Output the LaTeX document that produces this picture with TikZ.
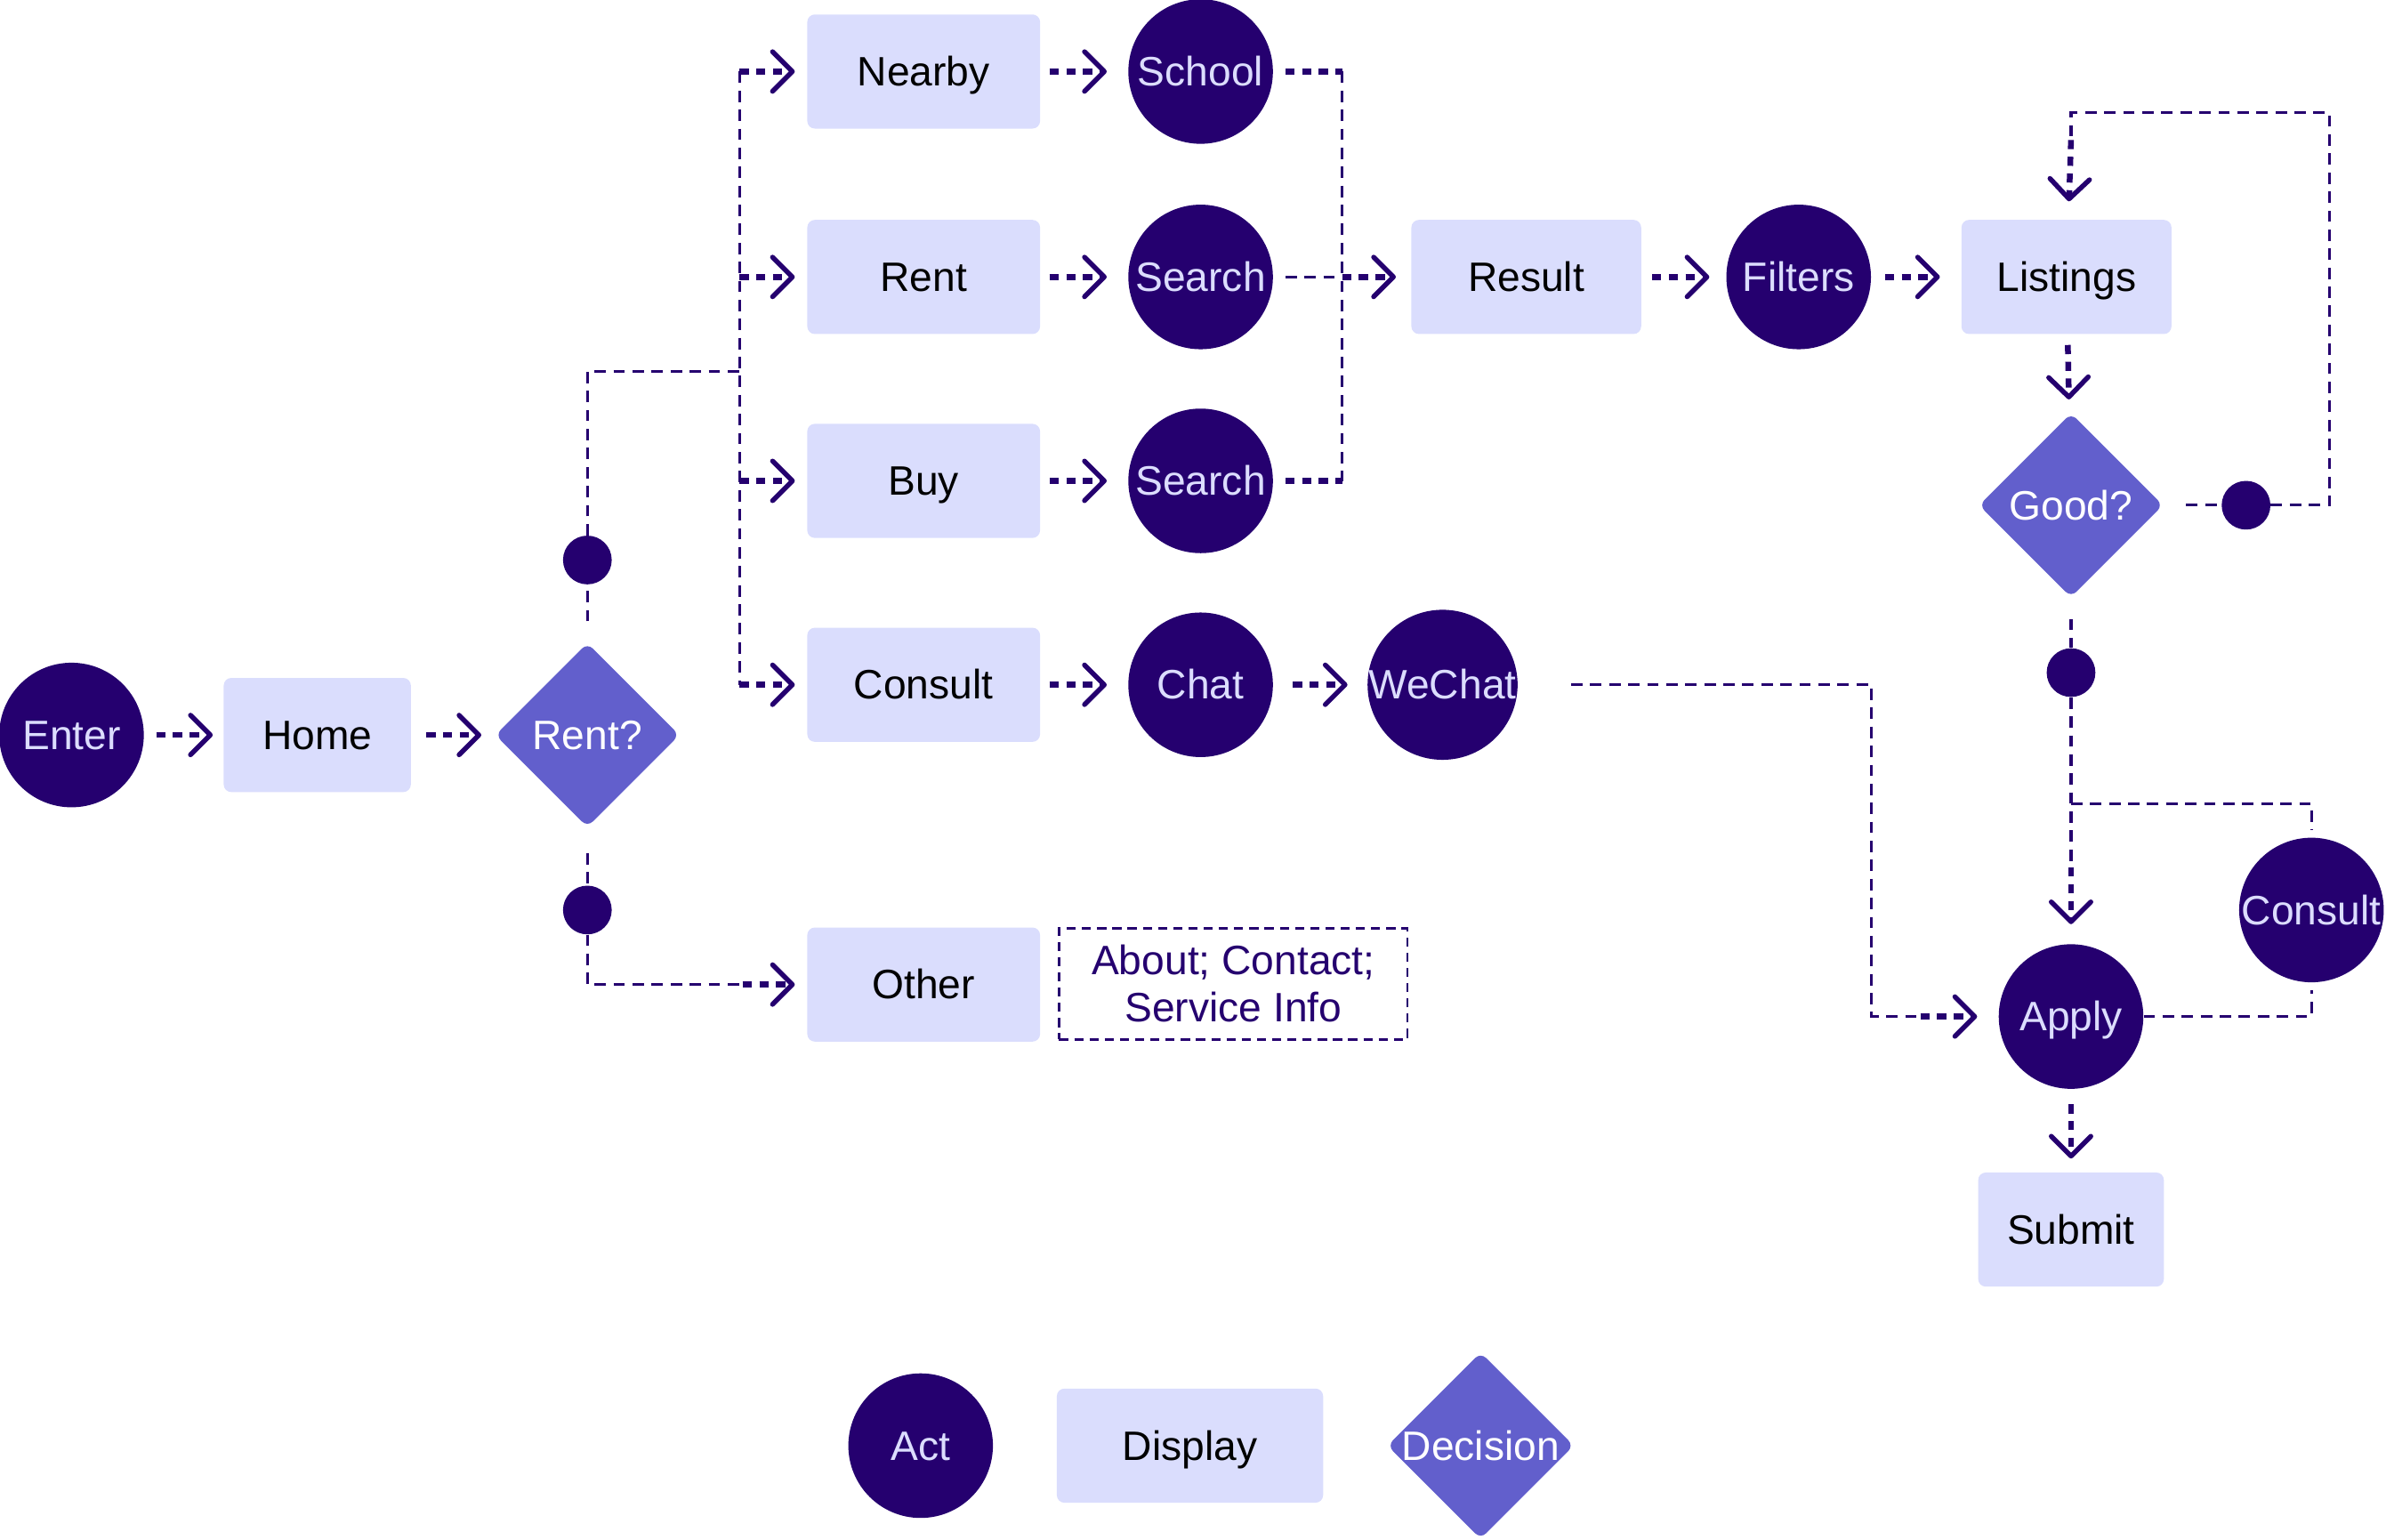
\documentclass[tikz,border=0pt]{standalone}
\usepackage{fontspec}
\setmainfont{Liberation Sans}
\usetikzlibrary{arrows.meta,shapes.geometric}
\definecolor{dp}{HTML}{25006F}
\definecolor{lav}{HTML}{DADDFD}
\definecolor{mp}{HTML}{625FCC}
\definecolor{lt}{HTML}{DCDDFF}
\begin{document}
\begin{tikzpicture}[x=1pt,y=-1pt,
 font=\fontsize{27}{31}\selectfont,
 act/.style={circle,fill=dp,text=lt,minimum size=95pt,inner sep=0pt,text height=19pt,text depth=0pt},
 disp/.style={rectangle,rounded corners=5pt,fill=lav,text=black,minimum height=75pt,inner sep=0pt,text height=19pt,text depth=0pt},
 dec/.style={diamond,fill=mp,text=white,minimum width=121pt,minimum height=121pt,inner sep=0pt,rounded corners=5pt,text height=19pt,text depth=0pt},
 jdot/.style={circle,fill=dp,minimum size=32pt,inner sep=0pt},
 thinline/.style={draw=dp,line width=1.8pt,dash pattern=on 7.5pt off 5pt},
 thk/.style={draw=dp,line width=3.8pt,dash pattern=on 6pt off 5pt},
 stub/.style={thk,-{Straight Barb[length=13pt,width=26pt,line width=3.2pt,round]}},
]
\useasboundingbox (0,0) rectangle (1568,1012);
% nodes
\node[act] (enter) at (47,483) {Enter};
\node[disp,minimum width=123pt] (home) at (208.5,483) {Home};
\node[dec] (rentq) at (386,483) {Rent?};
\node[jdot] (d1) at (386,368) {};
\node[jdot] (d2) at (386,598) {};
\node[disp,minimum width=153pt] (nearby) at (607,47) {Nearby};
\node[disp,minimum width=153pt] (rent) at (607,182) {Rent};
\node[disp,minimum width=153pt] (buy) at (607,316) {Buy};
\node[disp,minimum width=153pt] (consultb) at (607,450) {Consult};
\node[disp,minimum width=153pt] (other) at (607,647) {Other};
\node[draw=dp,line width=1.5pt,dash pattern=on 6pt off 4pt,minimum width=229pt,minimum height=73pt,inner sep=0pt,text=dp,align=center] (about) at (810.5,646.5) {About; Contact;\\Service Info};
\node[act] (school) at (789,47) {School};
\node[act] (search1) at (789,182) {Search};
\node[act] (search2) at (789,316) {Search};
\node[act] (chat) at (789,450) {Chat};
\node[act] (wechat) at (948,450) {WeChat};
\node[disp,minimum width=151pt] (result) at (1003,182) {Result};
\node[act] (filters) at (1182,182) {Filters};
\node[disp,minimum width=138pt] (listings) at (1358,182) {Listings};
\node[dec] (good) at (1361,332) {Good?};
\node[jdot] (d3) at (1476,332) {};
\node[jdot] (d4) at (1361,442) {};
\node[act] (consultc) at (1519,598) {Consult};
\node[act] (apply) at (1361,668) {Apply};
\node[disp,minimum width=122pt] (submit) at (1361,808) {Submit};
% legend
\node[act] (lact) at (605,950) {Act};
\node[disp,minimum width=175pt] (ldisp) at (782,950) {Display};
\node[dec] (ldec) at (973,950) {Decision};
% coordinates
\coordinate (j1) at (486,244);
\coordinate (vtop) at (486,47);
\coordinate (vr1) at (486,182);
\coordinate (vr2) at (486,316);
\coordinate (vbot) at (486,450);
\coordinate (k2) at (488,647);
\coordinate (m1) at (882,47);
\coordinate (m2) at (882,182);
\coordinate (m3) at (882,316);
\coordinate (g1) at (1531,332);
\coordinate (g2) at (1531,74);
\coordinate (g3) at (1361,74);
\coordinate (g4) at (1361,92);
\coordinate (h1) at (1361,528);
\coordinate (h3) at (1361,570);
\coordinate (w1) at (1230,450);
\coordinate (w2) at (1230,668);
\coordinate (w3) at (1262,668);
% connectors
\draw[stub,shorten <=8pt,shorten >=7pt] (enter) -- (home);
\draw[stub,shorten <=10pt,shorten >=9pt] (home) -- (rentq);
\draw[thinline,shorten <=14pt] (rentq.north) -- (d1);
\draw[thinline] (d1) |- (j1);
\draw[thinline] (vtop) -- (vbot);
\draw[stub,shorten >=8pt] (vtop) -- (nearby);
\draw[stub,shorten >=8pt] (vr1) -- (rent);
\draw[stub,shorten >=8pt] (vr2) -- (buy);
\draw[stub,shorten >=8pt] (vbot) -- (consultb);
\draw[thinline,shorten <=17pt] (rentq.south) -- (d2);
\draw[thinline] (d2) |- (k2);
\draw[stub,shorten >=8pt] (k2) -- (other);
\draw[stub,shorten <=6pt,shorten >=14pt] (nearby) -- (school);
\draw[stub,shorten <=6pt,shorten >=14pt] (rent) -- (search1);
\draw[stub,shorten <=6pt,shorten >=14pt] (buy) -- (search2);
\draw[stub,shorten <=6pt,shorten >=14pt] (consultb) -- (chat);
\draw[stub,shorten <=13pt,shorten >=13pt] (chat) -- (wechat);
\draw[thk,shorten <=8pt] (school) -- (m1);
\draw[thk,shorten <=8pt] (search2) -- (m3);
\draw[thinline] (m1) -- (m3);
\draw[thinline,shorten <=8pt] (search1) -- (m2);
\draw[stub,shorten >=10pt] (m2) -- (result);
\draw[stub,shorten <=7pt,shorten >=11pt] (result) -- (filters);
\draw[stub,shorten <=9pt,shorten >=14pt] (filters) -- (listings);
\draw[stub,shorten <=7pt,shorten >=10pt] (listings) -- (good);
\draw[thinline,shorten <=15pt] (good.east) -- (d3);
\draw[thinline] (d3) -- (g1) -- (g2) -- (g3) -- (g4);
\draw[stub,shorten >=12pt] (g4) -- (listings);
\draw[thinline,shorten <=14pt] (good.south) -- (d4);
\draw[thinline] (d4) -- (h3);
\draw[thinline,shorten >=5pt] (h1) -| (consultc);
\draw[stub,shorten >=13pt] (h3) -- (apply);
\draw[thinline,shorten >=5pt] (apply) -| (consultc);
\draw[thinline,shorten <=35pt] (wechat) -- (w1) -- (w2) -- (w3);
\draw[stub,shorten >=14pt] (w3) -- (apply);
\draw[stub,shorten <=10pt,shorten >=9pt] (apply) -- (submit);
\end{tikzpicture}
\end{document}
